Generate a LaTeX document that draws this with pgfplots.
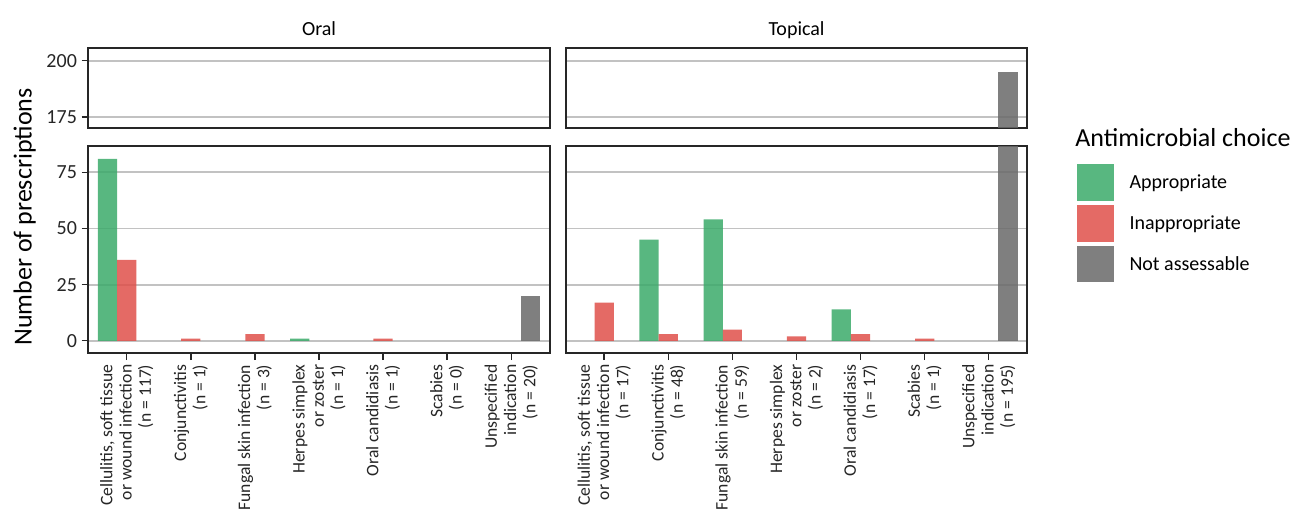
\documentclass[border=0pt]{standalone}
\usepackage{fontspec}
\setmainfont{Carlito}
\usepackage{pgfplots}
\pgfplotsset{compat=1.18}

\definecolor{appr}{RGB}{59,170,106}
\definecolor{inappr}{RGB}{223,80,74}
\definecolor{notass}{RGB}{105,105,105}

\pgfplotsset{
  panel/.style={
    scale only axis, width=346.1pt,
    xmin=-0.6, xmax=6.6,
    axis line style={line width=1.3pt, black!85},
    ymajorgrids, grid style={line width=1.4pt, black!24},
    tick style={line width=1.1pt, black!85},
    tick align=outside, major tick length=5pt,
    xtick pos=bottom, ytick pos=left,
    /pgf/number format/assume math mode=true,
    yticklabel style={font=\fontsize{15}{18}\selectfont, text=black!85},
    xticklabel style={rotate=90, anchor=east, align=right, text=black!85,
      font=\fontsize{13.2}{14.4}\selectfont},
  },
  % upper part of the broken axis: bars that end below it are dropped
  toppanel/.style={panel, height=60pt, ymin=170.1, ymax=205.5,
    ytick={175,200}, xtick=\empty,
    every axis plot/.append style={restrict y to domain=170:1000}},
  botpanel/.style={panel, height=155.5pt, ymin=-5.6, ymax=86.7,
    ytick={0,25,50,75}, xtick={0,...,6}},
  noy/.style={yticklabels={}, ytick style={draw=none}},
  A/.style={ybar, bar width=0.3, bar shift=-0.3, draw=none, fill=appr, fill opacity=0.85},
  I/.style={ybar, bar width=0.3, bar shift=0, draw=none, fill=inappr, fill opacity=0.85},
  N/.style={ybar, bar width=0.3, bar shift=0.3, draw=none, fill=notass, fill opacity=0.85},
}

\begin{document}
\begin{tikzpicture}
\path[use as bounding box] (0,0) rectangle (971.25pt,381pt);

% Oral, upper part of the broken axis
\begin{axis}[toppanel, at={(66.2pt,284.8pt)}, anchor=south west]
\addplot[A] coordinates {(0,81) (3,1)};
\addplot[I] coordinates {(0,36) (1,1) (2,3) (4,1)};
\addplot[N] coordinates {(6,20)};
\end{axis}

% Oral, lower part
\begin{axis}[botpanel, at={(66.2pt,116.0pt)}, anchor=south west,
  xticklabels={
    {Cellulitis, soft tissue\\or wound infection\\(n = 117)},
    {Conjunctivitis\\(n = 1)},
    {Fungal skin infection\\(n = 3)},
    {Herpes simplex\\or zoster\\(n = 1)},
    {Oral candidiasis\\(n = 1)},
    {Scabies\\(n = 0)},
    {Unspecified\\indication\\(n = 20)}}]
\addplot[A] coordinates {(0,81) (3,1)};
\addplot[I] coordinates {(0,36) (1,1) (2,3) (4,1)};
\addplot[N] coordinates {(6,20)};
\end{axis}

% Topical, upper part
\begin{axis}[toppanel, noy, at={(424.3pt,284.8pt)}, anchor=south west]
\addplot[A] coordinates {(1,45) (2,54) (4,14)};
\addplot[I] coordinates {(0,17) (1,3) (2,5) (3,2) (4,3) (5,1)};
\addplot[N] coordinates {(6,195)};
\end{axis}

% Topical, lower part
\begin{axis}[botpanel, noy, at={(424.3pt,116.0pt)}, anchor=south west,
  xticklabels={
    {Cellulitis, soft tissue\\or wound infection\\(n = 17)},
    {Conjunctivitis\\(n = 48)},
    {Fungal skin infection\\(n = 59)},
    {Herpes simplex\\or zoster\\(n = 2)},
    {Oral candidiasis\\(n = 17)},
    {Scabies\\(n = 1)},
    {Unspecified\\indication\\(n = 195)}},
  legend image code/.code={\fill[#1] (0pt,-13.6pt) rectangle (27.5pt,13.6pt);},
  legend cell align=left,
  legend style={at={(1.107,0.913)}, anchor=north west, draw=none, fill=none,
    inner sep=0pt, row sep=3.5pt, font=\fontsize{15}{18}\selectfont,
    nodes={inner sep=0pt},
    /tikz/every odd column/.style={column sep=12pt}}]
\addplot[A] coordinates {(1,45) (2,54) (4,14)};
\addplot[I] coordinates {(0,17) (1,3) (2,5) (3,2) (4,3) (5,1)};
\addplot[N] coordinates {(6,195)};
\legend{Appropriate, Inappropriate, Not assessable}
\end{axis}

% facet strips, axis title, legend title
\node[anchor=base, font=\fontsize{15}{18}\selectfont] at (239.3pt,354pt) {Oral};
\node[anchor=base, font=\fontsize{15}{18}\selectfont] at (597.4pt,354pt) {Topical};
\node[anchor=base, rotate=90, font=\fontsize{19.5}{23}\selectfont] at (23.8pt,218.3pt) {Number of prescriptions};
\node[anchor=west, inner sep=0pt, font=\fontsize{19.5}{23}\selectfont] at (806.3pt,278pt) {Antimicrobial choice};
\end{tikzpicture}
\end{document}
